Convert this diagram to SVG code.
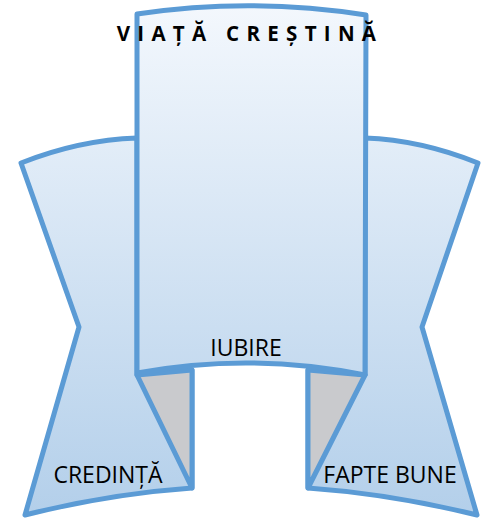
<svg xmlns="http://www.w3.org/2000/svg" width="490" height="518" viewBox="0 0 490 518">
<style>
.shape{stroke:#5b9bd5;stroke-width:5;stroke-linejoin:round;fill:url(#g)}
.fold{stroke:#5b9bd5;stroke-width:5;stroke-linejoin:round;fill:#c9cacd}
.lbl{font-family:"Open Sans","Liberation Sans",sans-serif;font-size:23px;fill:#000}
.title{font-family:"Open Sans","Liberation Sans",sans-serif;font-size:20.5px;font-weight:bold;letter-spacing:7.3px;fill:#000}
</style>
<defs>
<linearGradient id="g" gradientUnits="userSpaceOnUse" x1="0" y1="0" x2="0" y2="518">
<stop offset="0" stop-color="#f4f8fd"/>
<stop offset="1" stop-color="#b3cfea"/>
</linearGradient>
</defs>
<g id="credinta">
<path class="shape" d="M137,138 Q79,140 21,163 L79,327 L25,515 Q108,494 192,488 L192,370 L137,375 Z"/>
<path class="fold" d="M137,375 L192,370 L192,488 Z"/>
<text class="lbl" x="108" y="483" text-anchor="middle">CREDINȚĂ</text>
</g>
<g id="fapte-bune">
<path class="shape" d="M365,138 Q421,140 478,163 L422,327 L477,515 Q392,494 308,488 L308,370 L365,375 Z"/>
<path class="fold" d="M365,375 L308,370 L308,488 Z"/>
<text class="lbl" x="390" y="483" text-anchor="middle">FAPTE BUNE</text>
</g>
<g id="iubire">
<path class="shape" d="M137,14 Q251,-3 366,15 L365,375 Q251,352 137,373 Z"/>
<text class="lbl" x="246" y="356" text-anchor="middle">IUBIRE</text>
</g>
<g id="title">
<text class="title" x="250" y="41" text-anchor="middle">VIAȚĂ CREȘTINĂ</text>
</g>
<g id="connectors"/>
</svg>
